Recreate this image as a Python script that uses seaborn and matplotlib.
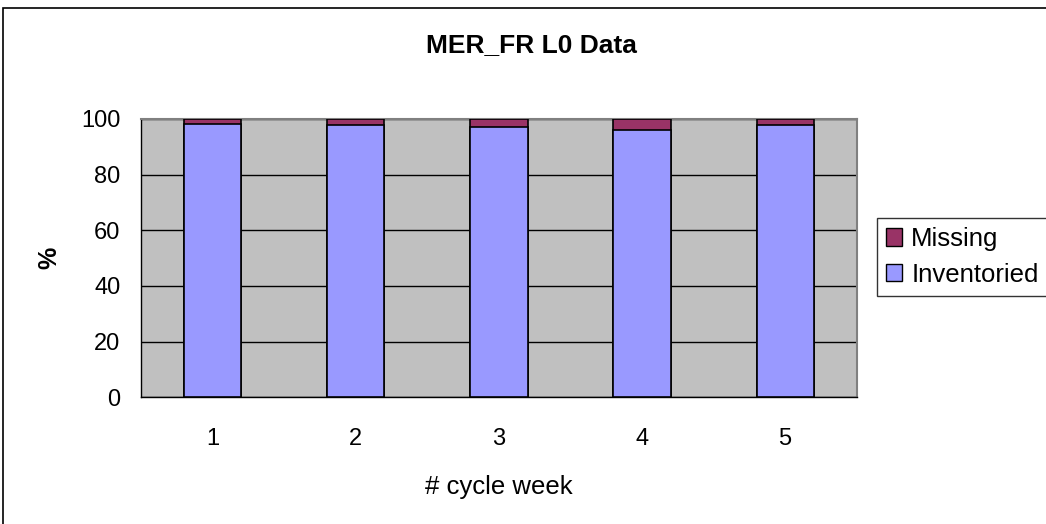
import numpy as np
import pandas as pd
import matplotlib
matplotlib.use("Agg")
import matplotlib.pyplot as plt
from matplotlib.patches import Rectangle, Patch
import seaborn as sns

weeks = ["1", "2", "3", "4", "5"]
inventoried = [98.2, 97.7, 97.1, 96.0, 97.7]
missing = [1.8, 2.3, 2.9, 4.0, 2.3]

col_inv = "#9999FF"
col_miss = "#993366"

df = pd.DataFrame({"week": weeks, "Inventoried": inventoried, "Missing": missing})
df["Total"] = df["Inventoried"] + df["Missing"]

sns.set_style("white", {"text.color": "black", "axes.labelcolor": "black",
                        "xtick.color": "black", "ytick.color": "black"})
plt.rcParams["font.family"] = ["Liberation Sans", "DejaVu Sans"]

fig = plt.figure(figsize=(10.46, 5.24), dpi=100)
ax = fig.add_axes([0.135, 0.242, 0.684, 0.531])
ax.set_facecolor("#C0C0C0")

# stacked: total first (missing colour), inventoried drawn over it
sns.barplot(data=df, x="week", y="Total", color=col_miss, width=0.4,
            edgecolor="black", linewidth=1.2, saturation=1, ax=ax, zorder=3)
sns.barplot(data=df, x="week", y="Inventoried", color=col_inv, width=0.4,
            edgecolor="black", linewidth=1.2, saturation=1, ax=ax, zorder=4)

ax.set_xlim(-0.5, len(weeks) - 0.5)
ax.set_ylim(0, 100)
ax.set_yticks(np.arange(0, 101, 20))
ax.yaxis.grid(True, color="black", linewidth=1, zorder=1)
ax.set_axisbelow(True)

ax.set_xticks(np.arange(-0.5, len(weeks), 1), minor=True)
ax.tick_params(axis="x", which="major", length=0, pad=22, labelsize=17, labelcolor="black")
ax.tick_params(axis="x", which="minor", length=6, width=1, color="black", direction="out")
ax.tick_params(axis="y", length=6, width=1, color="black", direction="out", labelsize=17,
               pad=9, labelcolor="black")

for side in ["top", "right"]:
    ax.spines[side].set_color("#808080")
    ax.spines[side].set_linewidth(1.5)
for side in ["left", "bottom"]:
    ax.spines[side].set_color("black")
    ax.spines[side].set_linewidth(1)

ax.set_xlabel("# cycle week", fontsize=18.5, labelpad=18, color="black")
ax.set_ylabel("%", fontsize=18, fontweight="bold", va="center", color="black")
ax.yaxis.set_label_coords(-0.128, 0.5)
fig.text(0.508, 0.914, "MER_FR L0 Data", ha="center", va="center",
         fontsize=19, fontweight="bold", color="black")

handles = [Patch(facecolor=col_miss, edgecolor="black", label="Missing"),
           Patch(facecolor=col_inv, edgecolor="black", label="Inventoried")]
leg = fig.legend(handles=handles, loc="center left", bbox_to_anchor=(0.838, 0.51),
                 fontsize=18.5, frameon=True, fancybox=False, shadow=False,
                 handlelength=0.65, handleheight=0.65, handletextpad=0.35,
                 borderpad=0.35, labelspacing=0.45, borderaxespad=0, labelcolor="black")
leg.get_frame().set_edgecolor("black")
leg.get_frame().set_linewidth(1)

fig.patches.append(Rectangle((0.003, -0.01), 1.0, 0.995, transform=fig.transFigure,
                             fill=False, edgecolor="black", linewidth=1.2))

fig.savefig("out.png", dpi=100)
